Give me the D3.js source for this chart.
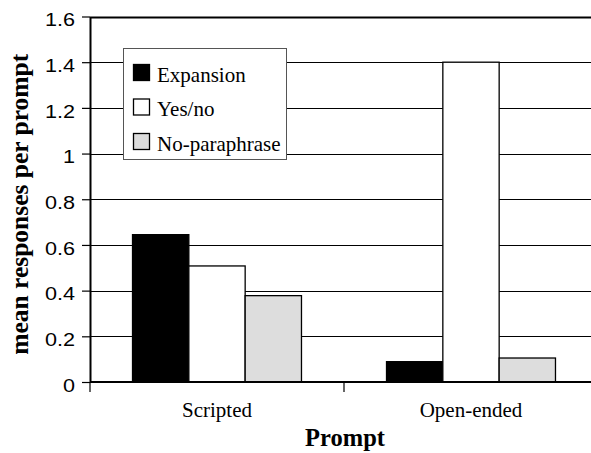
<!DOCTYPE html>
<html>
<head>
<meta charset="utf-8">
<script src="https://cdn.jsdelivr.net/npm/d3@7"></script>
<style>
  html, body { margin: 0; padding: 0; background: #fff; }
  svg { display: block; }
</style>
</head>
<body>
<svg id="chart" width="591" height="453"></svg>
<script>
const categories = ["Scripted", "Open-ended"];
const seriesNames = ["Expansion", "Yes/no", "No-paraphrase"];
const expansion = [0.645, 0.089];
const yesNo = [0.508, 1.4];
const noParaphrase = [0.378, 0.105];
const yTicks = [0, 0.2, 0.4, 0.6, 0.8, 1, 1.2, 1.4, 1.6];
const colors = ["#000000", "#ffffff", "#dddddd"];

const seriesValues = [expansion, yesNo, noParaphrase];
const data = categories.map((c, i) => ({
  category: c,
  values: seriesNames.map((s, j) => ({ series: s, value: seriesValues[j][i], color: colors[j] }))
}));

const svg = d3.select("#chart");
const mLeft = 90, mRight = 598, mTop = 16.5, mBottom = 382;

const x0 = d3.scaleBand().domain(categories).range([mLeft, mRight]).padding(0);
const x1 = d3.scaleBand().domain(seriesNames).range([0, x0.bandwidth()])
  .paddingInner(0).paddingOuter(0.755);
const y = d3.scaleLinear().domain([0, 1.6]).range([mBottom, mTop]);

// gridlines
svg.append("g").selectAll("line").data(yTicks.filter(t => t > 0)).join("line")
  .attr("x1", mLeft).attr("x2", mRight)
  .attr("y1", d => Math.round(y(d)) + 0.5).attr("y2", d => Math.round(y(d)) + 0.5)
  .attr("stroke", "#000").attr("stroke-width", d => d === 1.6 ? 2 : 1);

// bars
const groups = svg.append("g").selectAll("g").data(data).join("g")
  .attr("transform", d => `translate(${x0(d.category)},0)`);
groups.selectAll("rect").data(d => d.values).join("rect")
  .attr("x", d => x1(d.series))
  .attr("y", d => y(d.value))
  .attr("width", x1.bandwidth())
  .attr("height", d => y(0) - y(d.value))
  .attr("fill", d => d.color)
  .attr("stroke", "#000").attr("stroke-width", 1.3);

// y axis
const yAxis = svg.append("g").attr("transform", `translate(${mLeft},0)`)
  .call(d3.axisLeft(y).tickValues(yTicks).tickFormat(d3.format("")).tickSize(8).tickSizeOuter(0));
yAxis.select(".domain").attr("stroke-width", 2);
yAxis.selectAll(".tick line").attr("stroke-width", 1.2);
yAxis.selectAll(".tick text")
  .attr("x", 0).attr("dy", null).attr("y", 0)
  .attr("transform", "translate(-15,9.3) scale(1.2,1)")
  .attr("text-anchor", "end")
  .style("font-family", "'Liberation Sans', Arial, sans-serif")
  .style("font-size", "18px").attr("fill", "#000");

// x axis
const xAxis = svg.append("g").attr("transform", `translate(0,${mBottom})`)
  .call(d3.axisBottom(x0).tickSize(0).tickSizeOuter(0));
xAxis.select(".domain").attr("stroke-width", 2).attr("d", `M${mLeft},0H${mRight}`);
xAxis.selectAll(".tick text")
  .attr("y", 35).attr("dy", null)
  .style("font-family", "'Liberation Serif', 'Times New Roman', serif")
  .style("font-size", "21px").attr("fill", "#000");
// category separator ticks
svg.append("g").selectAll("line").data(categories).join("line")
  .attr("x1", d => x0(d)).attr("x2", d => x0(d))
  .attr("y1", mBottom).attr("y2", mBottom + 10)
  .attr("stroke", "#000").attr("stroke-width", 1.2);

// axis titles
svg.append("text")
  .attr("transform", `translate(28,${(mTop + mBottom) / 2 + 5}) rotate(-90)`)
  .attr("text-anchor", "middle")
  .style("font-family", "'Liberation Serif', 'Times New Roman', serif")
  .style("font-size", "25.5px").style("font-weight", "bold")
  .text("mean responses per prompt");
svg.append("text")
  .attr("x", 345).attr("y", 446)
  .attr("text-anchor", "middle")
  .style("font-family", "'Liberation Serif', 'Times New Roman', serif")
  .style("font-size", "24.5px").style("font-weight", "bold")
  .text("Prompt");

// legend
const legend = svg.append("g");
legend.append("rect")
  .attr("x", 123.5).attr("y", 48.5).attr("width", 163).attr("height", 111)
  .attr("fill", "#fff").attr("stroke", "#555").attr("stroke-width", 1);
const items = legend.selectAll("g.item").data(seriesNames).join("g")
  .attr("class", "item")
  .attr("transform", (d, i) => `translate(133,${64 + i * 34.5})`);
items.append("rect")
  .attr("x", 0.5).attr("y", 0.5).attr("width", 16).attr("height", 16)
  .attr("fill", (d, i) => colors[i]).attr("stroke", "#000").attr("stroke-width", 1.3);
items.append("text")
  .attr("x", 24).attr("y", 17.5)
  .style("font-family", "'Liberation Serif', 'Times New Roman', serif")
  .style("font-size", "21px")
  .text(d => d);
</script>
</body>
</html>
